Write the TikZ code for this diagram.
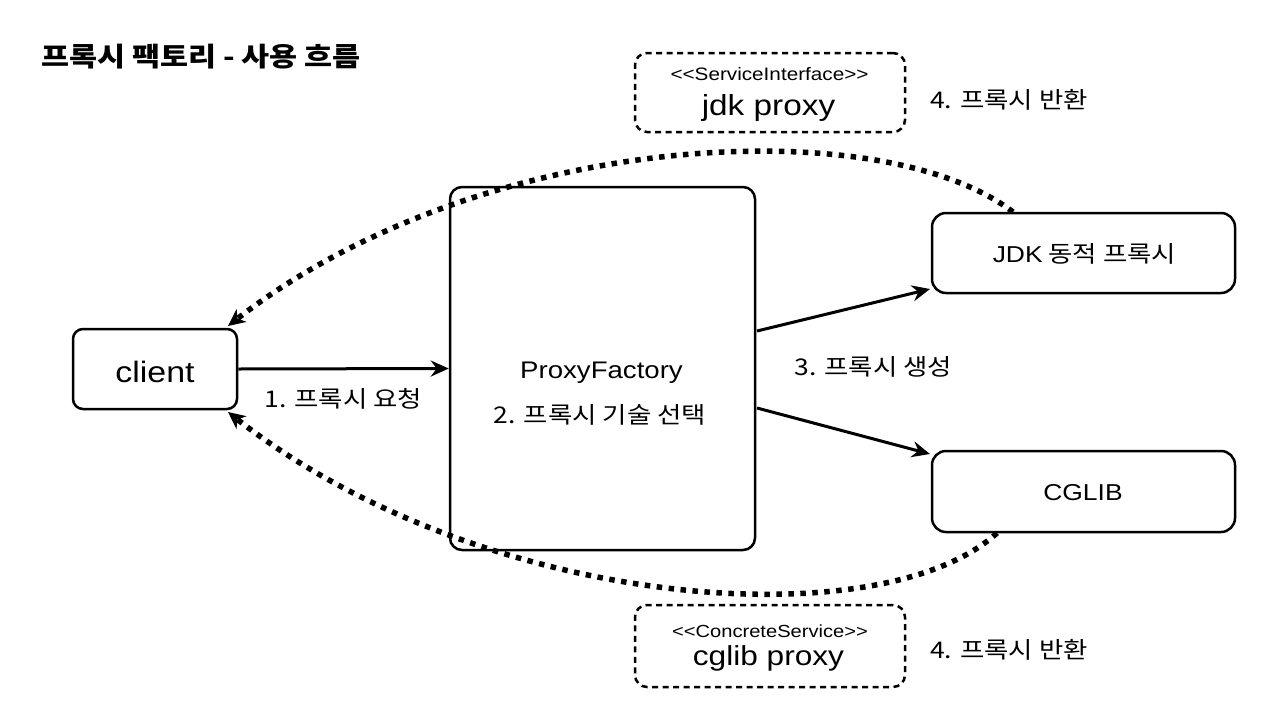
\documentclass[tikz,border=0pt]{standalone}
\usepackage{fontspec}
\setmainfont{Noto Sans CJK KR}[FakeStretch=1.15]
\newfontfamily\lat{Liberation Sans}[FakeStretch=1.15]
\usetikzlibrary{arrows.meta}
\begin{document}
\begin{tikzpicture}[x=1pt,y=-1pt,
  box/.style={draw=black,line width=2.5pt,rounded corners=12pt,fill=white,inner sep=0pt},
  dbox/.style={draw=black,line width=2.5pt,rounded corners=12pt,dash pattern=on 6pt off 4.5pt,inner sep=0pt},
  txt/.style={inner sep=0pt,anchor=base},
  lbl/.style={txt,font=\fontsize{23}{30}\selectfont},
  flow/.style={line width=3pt,-{Stealth[length=18pt,width=16pt,inset=6pt]}},
  ret/.style={line width=5.5pt,dash pattern=on 5.5pt off 6.5pt,-{Stealth[length=17pt,width=16pt,inset=5pt]}}
]
\useasboundingbox (0,0) rectangle (1280,726);
\fill[white] (0,0) rectangle (1280,726);

% title
\node[txt,font=\fontsize{26.5}{30}\selectfont\bfseries] (title) at (201,66) {프록시 팩토리 - 사용 흐름};

% boxes
\node[box,rounded corners=10pt,minimum width=164pt,minimum height=80pt] (client) at (155,369) {};
\node[box,minimum width=305pt,minimum height=363pt] (pf) at (602.5,368.5) {};
\node[box,rounded corners=14pt,minimum width=303pt,minimum height=80pt] (jdk) at (1083.5,253) {};
\node[box,rounded corners=14pt,minimum width=303pt,minimum height=81pt] (cglib) at (1083.5,491.5) {};
\node[dbox,minimum width=270pt,minimum height=79pt] (jdkp) at (770,92.5) {};
\node[dbox,minimum width=270pt,minimum height=82pt] (cglibp) at (770,646) {};

% texts
\node[txt,font=\lat\fontsize{29.5}{30}\selectfont] (clientt) at (155,382) {client};
\node[txt,font=\lat\fontsize{24}{30}\selectfont] (pft1) at (601.5,378) {ProxyFactory};
\node[lbl] (pft2) at (600,423) {2. 프록시 기술 선택};
\node[lbl] (jdkt) at (1084.5,262) {{\lat JDK} 동적 프록시};
\node[txt,font=\lat\fontsize{23}{30}\selectfont] (cglibt) at (1083,500) {CGLIB};
\node[txt,font=\lat\fontsize{18}{20}\selectfont] (jdkps) at (769.5,80) {<{}<ServiceInterface>{}>};
\node[txt,font=\lat\fontsize{29}{30}\selectfont] (jdkpt) at (768.5,115) {jdk proxy};
\node[txt,font=\lat\fontsize{17.5}{20}\selectfont] (cglibps) at (770,637) {<{}<ConcreteService>{}>};
\node[txt,font=\lat\fontsize{27.5}{30}\selectfont] (cglibpt) at (768.5,665) {cglib proxy};
\node[lbl] (l1) at (343.5,407) {1. 프록시 요청};
\node[lbl] (l3) at (873.5,375) {3. 프록시 생성};
\node[lbl] (l4a) at (1009,108) {4. 프록시 반환};
\node[lbl] (l4b) at (1009,658) {4. 프록시 반환};

% connectors
\coordinate (pfj) at (757,331);
\coordinate (pfc) at (757,408);
\coordinate (jdkin) at (930,289);
\coordinate (cglibin) at (930,454);
\coordinate (jdkout) at (1013,212);
\coordinate (cglibout) at (997,533);
\coordinate (clientin1) at (228,326);
\coordinate (clientin2) at (228,412);
\coordinate (c1a) at (880,110);
\coordinate (c1b) at (480,130);
\coordinate (c2a) at (880,640);
\coordinate (c2b) at (480,610);

\draw[flow] (client.east) -- (pf.west);
\draw[flow] (pfj) -- (jdkin);
\draw[flow] (pfc) -- (cglibin);
\draw[ret] (jdkout) .. controls (c1a) and (c1b) .. (clientin1);
\draw[ret] (cglibout) .. controls (c2a) and (c2b) .. (clientin2);
\end{tikzpicture}
\end{document}
